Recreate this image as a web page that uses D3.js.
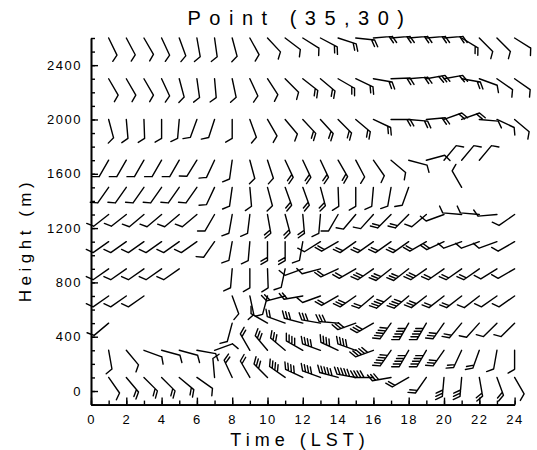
<!DOCTYPE html>
<html>
<head>
<meta charset="utf-8">
<script src="https://cdn.jsdelivr.net/npm/d3@7"></script>
<style>
  body { margin: 0; background: #fff; }
  text { font-family: "Liberation Sans", Arial, sans-serif; fill: #000; }
</style>
</head>
<body>
<svg id="chart" width="537" height="450"></svg>
<script>
// Hourly wind profile at grid point (35,30): direction (deg, blowing from) and speed (kt)
const hours = d3.range(1, 25);
const levels = [100, 300, 500, 700, 900, 1100, 1300, 1500, 1700, 2000, 2300, 2600];

const dir2600 = [154,152,150,155,160,170,172,165,151,137,127,122,118,108,96,85,85,85,85,85,121,135,135,122];
const spd2600 = [10,10,10,10,10,10,10,10,10,10,10,10,20,20,20,20,20,20,20,20,20,10,10,10];
const dir2300 = [150,150,150,155,165,172,175,168,155,147,135,128,130,120,115,100,88,85,80,80,100,110,125,125];
const spd2300 = [10,10,10,10,10,10,10,10,10,10,10,20,20,20,20,20,20,20,30,20,20,10,10,10];
const dir2000 = [165,175,178,180,185,200,198,180,160,150,140,137,138,135,130,115,90,95,85,70,70,95,115,130];
const spd2000 = [10,10,10,10,10,10,10,10,10,10,10,20,20,20,20,20,20,20,20,20,20,10,10,10];
const dir1700 = [210,210,210,210,210,212,205,188,165,162,155,155,155,150,152,145,130,105,75,40,40,40,null,null];
const spd1700 = [10,10,10,10,10,10,10,10,10,10,20,20,20,20,10,10,10,10,10,10,10,10,null,null];
const dir1500 = [215,215,215,215,215,215,205,188,175,165,160,160,165,178,180,185,190,200,null,null,330,null,null,null];
const spd1500 = [10,10,10,10,10,10,10,10,10,10,20,20,20,10,10,10,10,10,null,null,10,null,null,null];
const dir1300 = [232,232,230,230,230,230,210,190,187,170,165,175,185,210,220,222,225,225,230,250,275,275,265,235];
const spd1300 = [10,10,10,10,10,10,10,10,10,20,20,20,10,10,10,10,20,20,10,10,10,10,10,10];
const dir1100 = [235,235,235,235,235,235,215,190,185,180,180,190,238,240,235,235,235,235,240,245,250,250,250,240];
const spd1100 = [10,10,10,10,10,10,10,10,10,20,20,10,10,20,20,20,20,20,20,20,10,10,10,10];
const dir900  = [235,235,235,235,235,null,null,185,180,178,192,250,255,245,240,235,232,232,235,235,235,235,238,240];
const spd900  = [10,10,10,10,10,null,null,10,10,10,10,10,10,20,20,30,30,30,30,20,20,20,10,10];
const dir700  = [235,235,235,null,null,null,null,160,168,195,255,260,250,240,235,230,230,230,232,232,232,232,235,235];
const spd700  = [10,10,10,null,null,null,null,10,10,10,20,20,10,20,30,20,40,40,30,20,20,10,10,10];
const dir500  = [230,null,null,null,null,null,null,195,null,300,290,285,280,275,250,240,215,210,210,215,220,222,225,225];
const spd500  = [10,null,null,null,null,null,null,10,null,10,20,30,30,30,30,30,50,50,50,30,20,10,10,10];
const dir300  = [170,140,110,105,105,100,70,null,330,320,310,300,290,295,290,250,215,210,210,215,205,200,190,180];
const spd300  = [10,10,10,10,10,10,10,null,20,30,30,40,40,40,40,50,50,50,50,30,20,20,10,10];
const dir100  = [145,140,135,135,130,125,355,335,330,315,305,295,290,285,280,270,260,240,215,185,185,170,160,150];
const spd100  = [10,20,20,20,20,10,10,20,20,30,40,40,40,50,50,40,30,20,20,30,30,20,20,10];

const dirRows = [dir100, dir300, dir500, dir700, dir900, dir1100, dir1300, dir1500, dir1700, dir2000, dir2300, dir2600];
const spdRows = [spd100, spd300, spd500, spd700, spd900, spd1100, spd1300, spd1500, spd1700, spd2000, spd2300, spd2600];

const xTicks = d3.range(0, 25, 2);
const yTicks = d3.range(0, 2401, 400);

const svg = d3.select("#chart");
const x = d3.scaleLinear().domain([0, 24]).range([91, 514.6]);
const y = d3.scaleLinear().domain([-100, 2600]).range([404.6, 38]);

// flatten into barb records
const barbs = [];
levels.forEach((z, i) => {
  hours.forEach((h, j) => {
    const d = dirRows[i][j], s = spdRows[i][j];
    if (d != null && s != null) barbs.push({ h, z, d, s });
  });
});

const SHAFT = 19, FEATHER = 7.5, GAP = 3.2, ROT = 60 * Math.PI / 180;

// shaft from the station toward the upwind side, feathers at the far end
function barbPath(b) {
  const sx = x(b.h), sy = y(b.z);
  const a = b.d * Math.PI / 180;
  const ux = Math.sin(a), uy = -Math.cos(a);
  const tx = sx + SHAFT * ux, ty = sy + SHAFT * uy;
  const vx = ux * Math.cos(ROT) - uy * Math.sin(ROT);
  const vy = ux * Math.sin(ROT) + uy * Math.cos(ROT);
  let p = `M${sx},${sy}L${tx},${ty}`;
  const full = Math.floor(b.s / 10), half = (b.s % 10) >= 5;
  let k = 0;
  for (; k < full; k++) {
    const px = tx - k * GAP * ux, py = ty - k * GAP * uy;
    p += `M${px},${py}l${FEATHER * vx},${FEATHER * vy}`;
  }
  if (half) {
    const px = tx - k * GAP * ux, py = ty - k * GAP * uy;
    p += `M${px},${py}l${FEATHER * 0.5 * vx},${FEATHER * 0.5 * vy}`;
  }
  return p;
}

svg.append("g").attr("class", "barbs")
  .selectAll("path").data(barbs).join("path")
  .attr("d", barbPath)
  .attr("fill", "none").attr("stroke", "#000")
  .attr("stroke-width", 1.4).attr("stroke-linecap", "round").attr("stroke-linejoin", "round");

// axes: minor ticks then labelled major ticks, all pointing inward
const fmt = d3.format("d");
const gy = svg.append("g").attr("transform", `translate(${x(0)},0)`);
gy.call(d3.axisLeft(y).tickValues(d3.range(-100, 2601, 100)).tickSize(-4).tickSizeOuter(0).tickFormat(""));
gy.call(g => g.append("g").call(d3.axisLeft(y).tickValues(yTicks).tickSize(-7).tickSizeOuter(0).tickPadding(9).tickFormat(fmt)));

const gx = svg.append("g").attr("transform", `translate(0,${y(-100)})`);
gx.call(d3.axisBottom(x).tickValues(d3.range(0, 25, 1)).tickSize(-4).tickSizeOuter(0).tickFormat(""));
gx.call(g => g.append("g").call(d3.axisBottom(x).tickValues(xTicks).tickSize(-7).tickSizeOuter(0).tickPadding(10).tickFormat(fmt)));

svg.selectAll(".domain").attr("stroke", "#000").attr("stroke-width", 1.6);
svg.selectAll(".tick line").attr("stroke", "#000").attr("stroke-width", 1.4);
svg.selectAll(".tick text").attr("font-size", 13).attr("letter-spacing", 1.5)
  .style("font-family", "'Liberation Sans', Arial, sans-serif");

svg.append("text").attr("x", 300).attr("y", 25).attr("text-anchor", "middle")
  .attr("font-size", 20).attr("letter-spacing", 8.5).text("Point (35,30)");
svg.append("text").attr("x", 300).attr("y", 446).attr("text-anchor", "middle")
  .attr("font-size", 18).attr("letter-spacing", 5).text("Time (LST)");
svg.append("text").attr("transform", "translate(31,240) rotate(-90)").attr("text-anchor", "middle")
  .attr("font-size", 17).attr("letter-spacing", 4.5).text("Height (m)");
</script>
</body>
</html>
